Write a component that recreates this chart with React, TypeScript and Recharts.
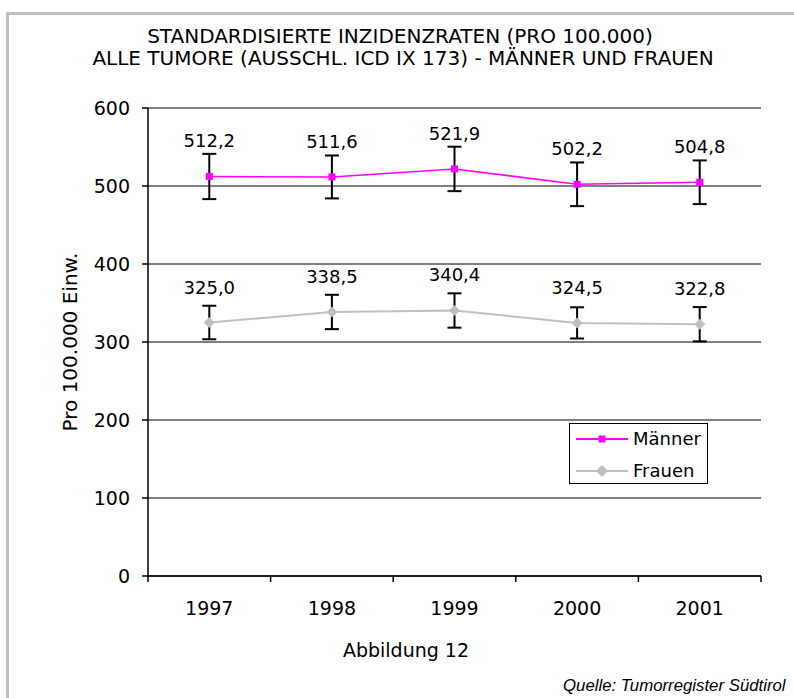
import { LineChart, Line, XAxis, YAxis, CartesianGrid, ErrorBar, LabelList, ReferenceLine, Customized } from "recharts";

const FONT = "'DejaVu Sans', sans-serif";

const years = ["1997", "1998", "1999", "2000", "2001"];
const maenner = [512.2, 511.6, 521.9, 502.2, 504.8];
const maennerErr = [29, 27.5, 28.5, 28, 28];
const frauen = [325.0, 338.5, 340.4, 324.5, 322.8];
const frauenErr = [21.5, 22, 22, 20, 22];
const yTicks = [0, 100, 200, 300, 400, 500, 600];

const titleLines = [
  "STANDARDISIERTE INZIDENZRATEN (PRO 100.000)",
  "ALLE TUMORE (AUSSCHL. ICD IX 173) - MÄNNER UND FRAUEN",
];
const legendItems = [
  { name: "Männer", color: "#ff00ff", shape: "square" },
  { name: "Frauen", color: "#c0c0c0", shape: "diamond" },
];

const data = years.map((year, i) => ({
  year,
  m: maenner[i],
  mErr: maennerErr[i],
  f: frauen[i],
  fErr: frauenErr[i],
}));

const fmt = (v: number) => v.toFixed(1).replace(".", ",");

function ValueLabel(props: any) {
  const { x, y, value } = props;
  return (
    <text x={x} y={y - 29} textAnchor="middle" fontSize={18} fontFamily={FONT} fill="#000">
      {fmt(Number(value))}
    </text>
  );
}

function YearTick(props: any) {
  const { x, y, payload, index } = props;
  const half = payload.offset || 61.3;
  const axisY = y - 6;
  return (
    <g>
      <line x1={x - half} y1={axisY} x2={x - half} y2={axisY + 6} stroke="#000" strokeWidth={1.5} />
      {index === years.length - 1 && (
        <line x1={x + half} y1={axisY} x2={x + half} y2={axisY + 6} stroke="#000" strokeWidth={1.5} />
      )}
      <text x={x} y={axisY + 39} textAnchor="middle" fontSize={19} fontFamily={FONT} fill="#000">
        {payload.value}
      </text>
    </g>
  );
}

const squareDot = (p: any) => (
  <rect key={`m-${p.index}`} x={p.cx - 3.5} y={p.cy - 3.5} width={7} height={7} fill="#ff00ff" />
);
const diamondDot = (p: any) => (
  <polygon
    key={`f-${p.index}`}
    points={`${p.cx},${p.cy - 5.5} ${p.cx + 5.5},${p.cy} ${p.cx},${p.cy + 5.5} ${p.cx - 5.5},${p.cy}`}
    fill="#c0c0c0"
  />
);

function Annotations() {
  return (
    <g fontFamily={FONT} fill="#000">
      <text x={400} y={43} textAnchor="middle" fontSize={20}>{titleLines[0]}</text>
      <text x={403} y={65} textAnchor="middle" fontSize={20}>{titleLines[1]}</text>
      <text x={70} y={342} textAnchor="middle" dominantBaseline="central" fontSize={20} transform="rotate(-90 70 342)">
        Pro 100.000 Einw.
      </text>
      <text x={406} y={657} textAnchor="middle" fontSize={19}>Abbildung 12</text>
      <text x={563} y={691} fontSize={16.8} fontStyle="italic" fontFamily="'Liberation Sans', sans-serif">
        Quelle: Tumorregister Südtirol
      </text>
      <rect x={569.5} y={423.5} width={138} height={60} fill="#fff" stroke="#000" strokeWidth={1} />
      {legendItems.map((it, i) => {
        const ly = 439 + i * 32;
        return (
          <g key={it.name}>
            <line x1={576} y1={ly} x2={628} y2={ly} stroke={it.color} strokeWidth={2} />
            {it.shape === "square" ? (
              <rect x={598.5} y={ly - 3.5} width={7} height={7} fill={it.color} />
            ) : (
              <polygon points={`602,${ly - 6} 608,${ly} 602,${ly + 6} 596,${ly}`} fill={it.color} />
            )}
            <text x={633} y={ly + 6} fontSize={18}>{it.name}</text>
          </g>
        );
      })}
    </g>
  );
}

export default function App() {
  return (
    <div style={{ position: "absolute", left: 0, top: 0, width: 794, height: 698, overflow: "hidden", background: "#fff" }}>
      <div
        style={{
          position: "absolute",
          left: 6,
          top: 12,
          width: 820,
          height: 720,
          border: "3px solid #c0c0c0",
          boxSizing: "border-box",
        }}
      />
      <div style={{ position: "absolute", left: 0, top: 0 }}>
        <LineChart width={794} height={698} data={data} margin={{ top: 108, right: 33, bottom: 92, left: 0 }}>
          <CartesianGrid vertical={false} stroke="#000" strokeWidth={1} />
          <ReferenceLine y={600} stroke="#808080" strokeWidth={2} />
          <XAxis
            dataKey="year"
            scale="band"
            height={30}
            tickSize={6}
            tickMargin={0}
            tickLine={false}
            axisLine={{ stroke: "#000", strokeWidth: 1.5 }}
            tick={<YearTick />}
            interval={0}
          />
          <YAxis
            domain={[0, 600]}
            ticks={yTicks}
            width={148}
            tickSize={6}
            tickMargin={12}
            axisLine={{ stroke: "#000", strokeWidth: 1.5 }}
            tickLine={{ stroke: "#000", strokeWidth: 1.5 }}
            tick={{ fontSize: 19, fill: "#000", fontFamily: FONT }}
          />
          <YAxis
            yAxisId="right"
            orientation="right"
            width={0}
            domain={[0, 600]}
            tick={false}
            tickLine={false}
            axisLine={{ stroke: "#808080", strokeWidth: 2 }}
          />
          <Line
            dataKey="m"
            stroke="#ff00ff"
            strokeWidth={1.5}
            dot={squareDot}
            activeDot={false}
            isAnimationActive={false}
          >
            <ErrorBar dataKey="mErr" width={7} stroke="#000" strokeWidth={2} direction="y" isAnimationActive={false} />
            <LabelList dataKey="m" content={ValueLabel} />
          </Line>
          <Line
            dataKey="f"
            stroke="#c0c0c0"
            strokeWidth={2}
            dot={diamondDot}
            activeDot={false}
            isAnimationActive={false}
          >
            <ErrorBar dataKey="fErr" width={7} stroke="#000" strokeWidth={2} direction="y" isAnimationActive={false} />
            <LabelList dataKey="f" content={ValueLabel} />
          </Line>
          <Customized component={Annotations} />
        </LineChart>
      </div>
    </div>
  );
}
